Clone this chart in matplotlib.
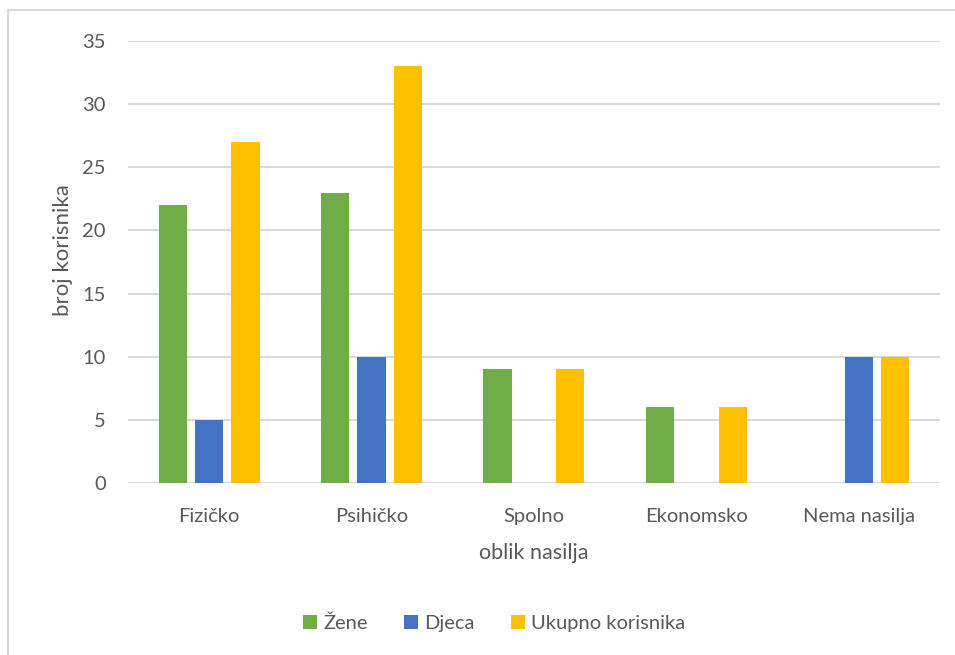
import numpy as np
import matplotlib.pyplot as plt
from matplotlib.patches import Rectangle

plt.rcParams['font.family'] = ['Lato', 'DejaVu Sans']

categories = ['Fizičko', 'Psihičko', 'Spolno', 'Ekonomsko', 'Nema nasilja']
zene = [22, 23, 9, 6, 0]
djeca = [5, 10, 0, 0, 10]
ukupno = [27, 33, 9, 6, 10]
series_names = ['Žene', 'Djeca', 'Ukupno korisnika']
colors = ['#70AD47', '#4472C4', '#FFC000']

fig = plt.figure(figsize=(9.55, 6.55), dpi=100)
ax = fig.add_axes([0.134, 0.2626, 0.85, 0.6748])

# light frame like the excel chart area
fig.patches.append(Rectangle((8 / 955, -0.1), 1.2, 1 - 10 / 655 + 0.1,
                             transform=fig.transFigure, fill=False,
                             edgecolor='#D9D9D9', linewidth=1.5))

x = np.arange(len(categories))
w = 0.173
step = 0.224
for i, (vals, name, c) in enumerate(zip([zene, djeca, ukupno], series_names, colors)):
    ax.bar(x + (i - 1) * step, vals, width=w, color=c, label=name, zorder=3)

ax.set_xlim(-0.5, 4.5)
ax.set_ylim(0, 35)
ax.set_yticks(range(0, 36, 5))
ax.grid(axis='y', color='#D9D9D9', linewidth=1.5, zorder=0)
for s in ax.spines.values():
    s.set_visible(False)
ax.tick_params(length=0, labelsize=14.5, colors='#595959')
ax.tick_params(axis='y', pad=16)
ax.tick_params(axis='x', pad=18)
ax.set_xticks(x)
ax.set_xticklabels(categories)

ax.set_xlabel('oblik nasilja', fontsize=15.5, color='#595959', labelpad=13)
ax.set_ylabel('broj korisnika', fontsize=16, color='#595959')
ax.yaxis.set_label_coords(-0.068, 0.527)

ax.legend(loc='center', bbox_to_anchor=(494 / 955, 1 - 623 / 655),
          bbox_transform=fig.transFigure, ncol=3, frameon=False,
          fontsize=14.5, labelcolor='#595959', handlelength=0.7, handleheight=0.7,
          handletextpad=0.3, columnspacing=1.8)

fig.savefig('out.png', dpi=100)
